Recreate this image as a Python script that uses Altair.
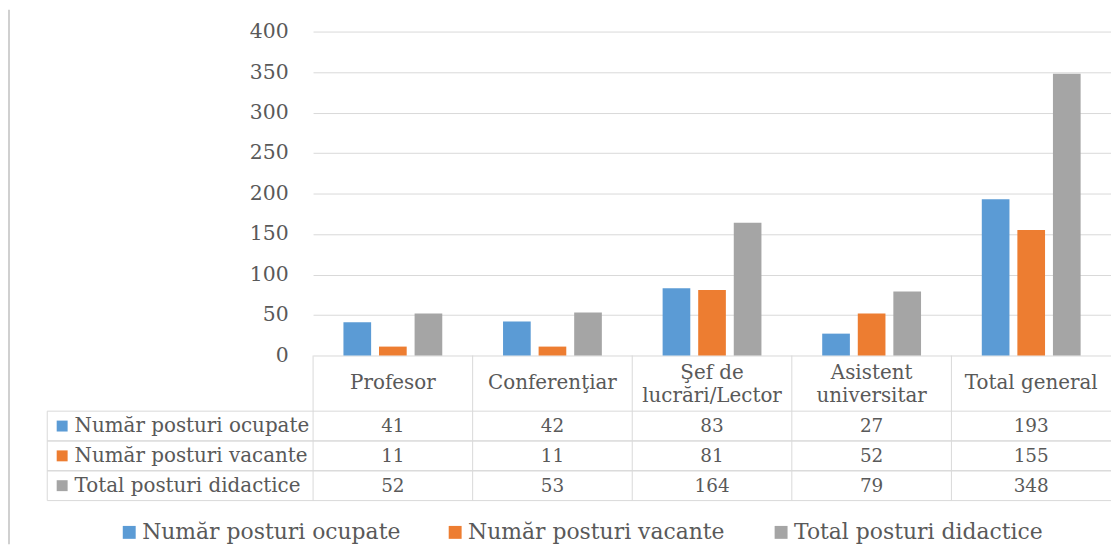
import altair as alt
import pandas as pd

# ---- data ----
categories = ["Profesor", "Conferenţiar", "Şef de\nlucrări/Lector", "Asistent\nuniversitar", "Total general"]
series = ["Număr posturi ocupate", "Număr posturi vacante", "Total posturi didactice"]
ocupate = [41, 42, 83, 27, 193]
vacante = [11, 11, 81, 52, 155]
total_didactice = [52, 53, 164, 79, 348]
colors = ["#5B9BD5", "#ED7D31", "#A5A5A5"]
y_ticks = [0, 50, 100, 150, 200, 250, 300, 350, 400]

rows = []
for s, vals in zip(series, [ocupate, vacante, total_didactice]):
    for c, v in zip(categories, vals):
        rows.append({"cat": c, "series": s, "value": v})
df = pd.DataFrame(rows)
cat_df = pd.DataFrame({"cat": categories})
cat1_df = pd.DataFrame({"cat": [c for c in categories if "\n" not in c]})
cat2_df = pd.DataFrame({"cat": [c for c in categories if "\n" in c]})
ser_df = pd.DataFrame({"series": series})
one_df = pd.DataFrame({"k": [0]})

# ---- layout / style ----
W, H = 803, 326
FONT = "DejaVu Serif"
TXT = "#595959"
GRID = "#d9d9d9"
TABLE_LEFT = -267.5
TABLE_BOTTOM = 472
HEADER_BOTTOM = 382
HEADER_MID = 354
LINE_H = 23

xscale = alt.Scale(type="band", domain=categories, paddingInner=0, paddingOuter=0)
X = alt.X("cat:N", scale=xscale, axis=None)
row_scale = alt.Scale(type="band", domain=series, range=[HEADER_BOTTOM, TABLE_BOTTOM],
                      paddingInner=0, paddingOuter=0)
Yrow = alt.Y("series:N", scale=row_scale, axis=None)

legend = alt.Legend(
    orient="none", legendX=-196, legendY=493, direction="horizontal", columns=3,
    title=None, symbolType="square", symbolSize=169, symbolStrokeWidth=0,
    symbolOpacity=1, labelFont=FONT, labelFontSize=22, labelColor=TXT,
    labelLimit=500, labelOffset=2, columnPadding=44, gridAlign="all", padding=0,
)
color = alt.Color("series:N", scale=alt.Scale(domain=series, range=colors), legend=legend)

bars = alt.Chart(df).mark_bar().encode(
    x=X,
    xOffset=alt.XOffset("series:N", scale=alt.Scale(domain=series, paddingInner=0.222, paddingOuter=0.854)),
    y=alt.Y("value:Q", scale=alt.Scale(domain=[0, 400]),
            axis=alt.Axis(values=y_ticks, title=None, domain=False, ticks=False, tickSize=0,
                          labelPadding=25, labelFont=FONT, labelFontSize=20.5, labelColor=TXT,
                          grid=True, gridColor=GRID, gridWidth=1)),
    color=color,
)

header1 = alt.Chart(cat1_df).mark_text(
    font=FONT, fontSize=20, color=TXT, baseline="middle"
).encode(x=X, y=alt.value(HEADER_MID), text="cat:N")

header2 = alt.Chart(cat2_df).mark_text(
    font=FONT, fontSize=20, color=TXT, lineBreak="\n", lineHeight=LINE_H, baseline="middle"
).encode(x=X, y=alt.value(HEADER_MID + 1 - LINE_H / 2), text="cat:N")

values = alt.Chart(df).mark_text(
    font=FONT, fontSize=18.5, color=TXT, baseline="middle"
).encode(x=X, y=Yrow, text="value:Q")

row_labels = alt.Chart(ser_df).mark_text(
    font=FONT, fontSize=20, color=TXT, align="left", baseline="middle"
).encode(x=alt.value(-240), y=Yrow, text="series:N")

row_squares = alt.Chart(ser_df).mark_square(size=121, opacity=1).encode(
    x=alt.value(-252.5), y=Yrow, color=color
)

hlines_top = alt.Chart(ser_df).mark_rule(color=GRID, strokeWidth=1).encode(
    x=alt.value(TABLE_LEFT), x2=alt.value(W),
    y=alt.Y("series:N", scale=row_scale, axis=None, bandPosition=0),
)
hlines_bottom = alt.Chart(ser_df).mark_rule(color=GRID, strokeWidth=1).encode(
    x=alt.value(TABLE_LEFT), x2=alt.value(W),
    y=alt.Y("series:N", scale=row_scale, axis=None, bandPosition=1),
)
vlines = alt.Chart(cat_df).mark_rule(color=GRID, strokeWidth=1).encode(
    x=alt.X("cat:N", scale=xscale, axis=None, bandPosition=0),
    y=alt.value(H), y2=alt.value(TABLE_BOTTOM),
)
vline_left = alt.Chart(one_df).mark_rule(color=GRID, strokeWidth=1).encode(
    x=alt.value(TABLE_LEFT), y=alt.value(HEADER_BOTTOM), y2=alt.value(TABLE_BOTTOM)
)
border = alt.Chart(one_df).mark_rule(color="#d0d0d0", strokeWidth=2).encode(
    x=alt.value(-306), y=alt.value(-22), y2=alt.value(516)
)

chart = alt.layer(
    border, hlines_top, hlines_bottom, vlines, vline_left,
    bars, header1, header2, values, row_squares, row_labels,
).resolve_scale(y="independent").properties(
    width=W, height=H,
    autosize=alt.AutoSizeParams(type="none"),
    padding={"left": 307, "top": 22, "right": 0, "bottom": 190},
    background="white",
).configure_view(stroke=None)

chart.save("out.html", embed_options={"renderer": "svg", "actions": False})
